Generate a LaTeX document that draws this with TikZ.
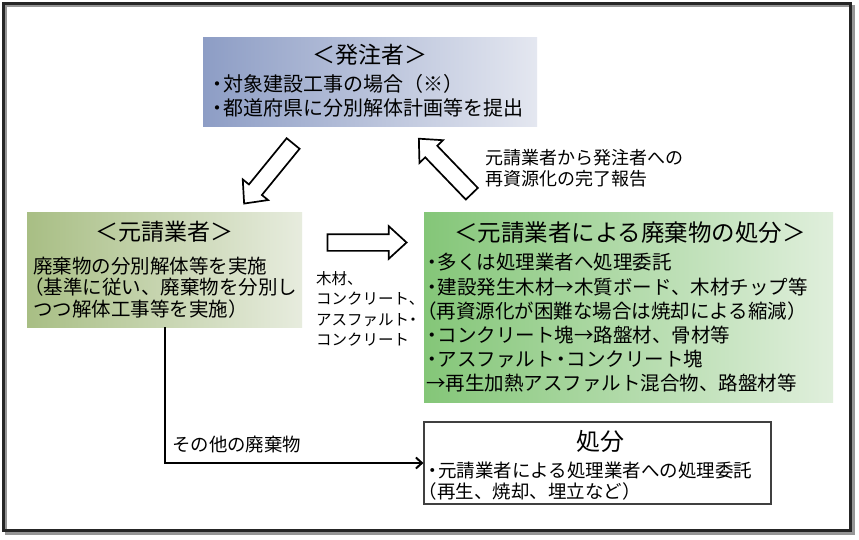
\documentclass[tikz,border=0pt]{standalone}
\usepackage{fontspec}
\setmainfont{Noto Sans CJK JP}
\usetikzlibrary{shapes.arrows,arrows.meta}
\definecolor{bluel}{RGB}{141,157,197}
\definecolor{bluer}{RGB}{228,231,240}
\definecolor{olivel}{RGB}{168,190,132}
\definecolor{oliver}{RGB}{231,236,222}
\definecolor{greenl}{RGB}{132,198,120}
\definecolor{greenr}{RGB}{224,239,220}
\definecolor{framegray}{RGB}{150,150,150}
\newcommand\bul{\makebox[0.6em][c]{・}}
\newcommand\lpar{\makebox[0.55em][r]{（}}
\tikzset{
  gbox/.style={rectangle, inner sep=0pt, draw=none},
  plainbox/.style={rectangle, inner sep=0pt, draw=black!75, line width=1.2pt, fill=white},
  txt/.style={inner sep=0pt, align=left},
  blockarrow/.style={single arrow, draw=black, fill=white, line width=1.7pt,
    inner xsep=0pt, inner ysep=7.5pt, single arrow head extend=8pt,
    single arrow tip angle=85, minimum width=0pt},
  fs/.style 2 args={font=\fontsize{#1}{#2}\selectfont},
}
\begin{document}
\begin{tikzpicture}[x=1pt,y=-1pt]
\useasboundingbox (0,0) rectangle (859,540);
\fill[white] (0,0) rectangle (859,540);
% outer frame with shadow
\draw[framegray, line width=2.5pt] (6,6) rectangle (853.5,533.5);
\draw[black!85, line width=2.5pt] (3.5,3.5) rectangle (850.5,530.5);

% boxes
\node[gbox, left color=bluel, right color=bluer, minimum width=334pt, minimum height=89pt] (hc) at (370,82.5) {};
\node[gbox, left color=olivel, right color=oliver, minimum width=275pt, minimum height=114pt] (mu) at (164.5,270) {};
\node[gbox, left color=greenl, right color=greenr, minimum width=409pt, minimum height=189pt] (sb) at (628.5,307.5) {};
\node[plainbox, minimum width=347pt, minimum height=82pt] (sf) at (597.5,463) {};

% texts in boxes
\node[txt, fs={23}{27}] (hct) at (370,55) {＜発注者＞};
\node[txt, fs={20}{24.5}, anchor=north west] (hcb) at (211,74) {\bul 対象建設工事の場合（※）\\\bul 都道府県に分別解体計画等を提出};

\node[txt, fs={23}{27}] (mut) at (164.5,232) {＜元請業者＞};
\node[txt, fs={19.5}{21.5}, anchor=north west] (mub) at (33,256.4) {廃棄物の分別解体等を実施\\\lpar 基準に従い、廃棄物を分別し\\つつ解体工事等を実施）};

\node[txt, fs={23.5}{27}] (sbt) at (630,233) {＜元請業者による廃棄物の処分＞};
\node[txt, fs={19.5}{24.2}, anchor=north west] (sbb) at (426,253.2) {\bul 多くは処理業者へ処理委託\\\bul 建設発生木材→木質ボード、木材チップ等\\\lpar 再資源化が困難な場合は焼却による縮減）\\\bul コンクリート塊→路盤材、骨材等\\\bul アスファルト\bul コンクリート塊\\→再生加熱アスファルト混合物、路盤材等};

\node[txt, fs={24}{27}] (sft) at (600,441) {処分};
\node[txt, fs={18.5}{21}, anchor=north west] (sfb) at (427,461.7) {\bul 元請業者による処理業者への処理委託\\\lpar 再生、焼却、埋立など）};

% block arrows
\node[blockarrow, minimum height=77.5pt, rotate=230.8] (a1) at (271.5,170) {};
\node[blockarrow, minimum height=76.4pt, rotate=133.9] (a2) at (448.5,169.5) {};
\node[blockarrow, minimum height=79pt] (a3) at (362.5,242.5) {};

% labels
\node[txt, fs={18}{21}, anchor=north west] (l1) at (485,148.9) {元請業者から発注者への\\再資源化の完了報告};
\node[txt, fs={15.5}{20.5}, anchor=north west] (l2) at (316,271.2) {木材、\\コンクリート、\\アスファルト\makebox[0.5em][c]{・}\\コンクリート};

% connector
\draw[line width=2pt, -{Straight Barb[length=6pt,width=11pt,line width=2pt]}] (mu.south) |- (sf.west);
\node[txt, fs={18.4}{21}, anchor=west] (l3) at (172,445) {その他の廃棄物};
\end{tikzpicture}
\end{document}
